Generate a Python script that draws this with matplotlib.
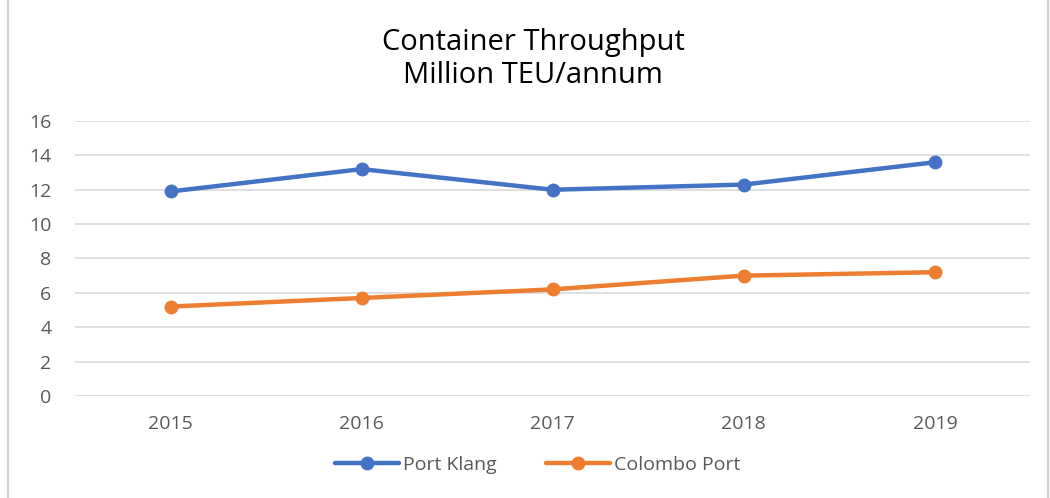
import matplotlib.pyplot as plt
from matplotlib.patches import Rectangle

# Container throughput, million TEU per year
years = ["2015", "2016", "2017", "2018", "2019"]
port_klang = [11.9, 13.2, 12.0, 12.3, 13.6]
colombo_port = [5.2, 5.7, 6.2, 7.0, 7.2]

plt.rcParams['font.family'] = ['Open Sans', 'DejaVu Sans']

fig = plt.figure(figsize=(10.5, 4.98), dpi=100)
ax = fig.add_axes([0.0714, 0.205, 0.91, 0.552])

# chart border like the office chart frame
fig.patches.append(Rectangle((0.008, -0.01), 0.99, 1.05, transform=fig.transFigure,
                             fill=False, edgecolor="#d0d0d0", linewidth=1.5))

x = range(len(years))
ax.plot(x, port_klang, color="#4472C4", linewidth=3.2, marker="o", markersize=9,
        label="Port Klang", solid_capstyle="round")
ax.plot(x, colombo_port, color="#ED7D31", linewidth=3.2, marker="o", markersize=9,
        label="Colombo Port", solid_capstyle="round")

ax.set_xlim(-0.5, len(years) - 0.5)
ax.set_ylim(0, 16)
ax.set_yticks(range(0, 17, 2))
ax.set_xticks(list(x))
ax.set_xticklabels(years)
ax.grid(axis="y", color="#d9d9d9", linewidth=1.2)
ax.set_axisbelow(True)
for s in ax.spines.values():
    s.set_visible(False)
ax.tick_params(length=0, labelsize=14, labelcolor="#595959")
ax.tick_params(axis="x", pad=14)
ax.tick_params(axis="y", pad=17)

fig.text(0.508, 0.882, "Container Throughput\nMillion TEU/annum", ha="center", va="center",
         fontsize=21, color="#000000", linespacing=1.2)

fig.legend(loc="center", bbox_to_anchor=(0.512, 0.066), ncol=2, frameon=False,
           fontsize=14, handlelength=3.3, columnspacing=2.5, handletextpad=0.2,
           labelcolor="#595959")

fig.savefig("out.png", dpi=100)
